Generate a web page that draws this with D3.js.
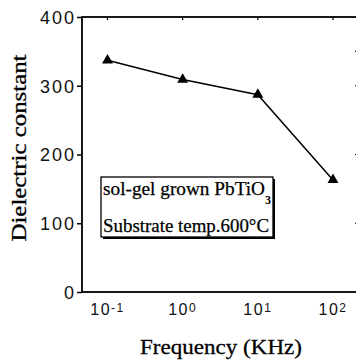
<!DOCTYPE html>
<html lang="en">
<head>
<meta charset="utf-8"/>
<title>Dielectric constant vs frequency</title>
<script src="https://d3js.org/d3.v7.min.js"></script>
<style>
  body { margin: 0; background: #fff; }
</style>
</head>
<body>
<script>
// values
var freq = [0.1, 1, 10, 100];            // KHz
var dielectric = [337, 309, 287, 163];
var yTicks = [0, 100, 200, 300, 400];
var rightTicks = [100, 200, 300, 350];
var xTicks = [0.1, 1, 10, 100];
var xTickExp = ["-1", "0", "1", "2"];
var legendLines = ["sol-gel grown PbTiO", "Substrate temp.600\u00B0C"];

var w = 356, h = 361;
var plotL = 82, plotR = 359, plotT = 17, plotB = 292;
var serif = "'Liberation Serif', 'Times New Roman', serif";
var sans = "'Liberation Sans', Arial, sans-serif";

var svg = d3.select("body").append("svg")
    .attr("width", w)
    .attr("height", h);

// log x scale, decades 10^-1 .. 10^2
var x = d3.scaleLog()
    .domain([0.1, 100])
    .range([107.5, 333]);

var y = d3.scaleLinear()
    .domain([0, 400])
    .range([plotB, plotT]);

// frame
svg.append("rect")
    .attr("x", plotL).attr("y", plotT)
    .attr("width", plotR - plotL).attr("height", plotB - plotT)
    .attr("fill", "none")
    .attr("stroke", "#000")
    .attr("stroke-width", 1.8);

// left axis
var yAxis = svg.append("g")
    .attr("transform", "translate(" + plotL + ",0)")
    .call(d3.axisLeft(y).tickValues(yTicks).tickSize(5).tickPadding(1));
yAxis.select(".domain").remove();
yAxis.selectAll("line").attr("stroke-width", 1.5);
yAxis.selectAll("text")
    .attr("font-family", sans)
    .attr("font-size", 18)
    .attr("letter-spacing", 2)
    .attr("fill", "#111")
    .attr("dy", "0.36em");

// right ticks (inside)
svg.selectAll(".rtick")
    .data(rightTicks)
    .enter().append("line")
    .attr("x1", plotR).attr("x2", plotR - 4)
    .attr("y1", function(d) { return y(d); })
    .attr("y2", function(d) { return y(d); })
    .attr("stroke", "#000")
    .attr("stroke-width", 1.2);

// top ticks (inside)
svg.selectAll(".ttick")
    .data(xTicks)
    .enter().append("line")
    .attr("x1", function(d) { return x(d); })
    .attr("x2", function(d) { return x(d); })
    .attr("y1", plotT).attr("y2", plotT + 3)
    .attr("stroke", "#000")
    .attr("stroke-width", 1.2);

// bottom tick labels 10^n
var xl = svg.selectAll(".xlab")
    .data(xTicks)
    .enter().append("text")
    .attr("x", function(d) { return x(d); })
    .attr("y", 315)
    .attr("text-anchor", "middle")
    .attr("font-family", sans)
    .attr("font-size", 16)
    .attr("letter-spacing", 1.5)
    .attr("fill", "#111");
xl.append("tspan").text("10");
xl.append("tspan")
    .attr("font-size", 12)
    .attr("dy", -3)
    .text(function(d, i) { return xTickExp[i]; });

// data line + triangles
var line = d3.line()
    .x(function(d, i) { return x(freq[i]); })
    .y(function(d) { return y(d); });

svg.append("path")
    .datum(dielectric)
    .attr("d", line)
    .attr("fill", "none")
    .attr("stroke", "#000")
    .attr("stroke-width", 1.5);

svg.selectAll(".pt")
    .data(dielectric)
    .enter().append("path")
    .attr("transform", function(d, i) { return "translate(" + x(freq[i]) + "," + y(d) + ")"; })
    .attr("d", d3.symbol(d3.symbolTriangle, 52))
    .attr("fill", "#000");

// legend box with shadow
svg.append("rect")
    .attr("x", 103).attr("y", 179)
    .attr("width", 172).attr("height", 60)
    .attr("fill", "#000");
svg.append("rect")
    .attr("x", 101).attr("y", 177)
    .attr("width", 172).attr("height", 60)
    .attr("fill", "#fff")
    .attr("stroke", "#000")
    .attr("stroke-width", 1.3);

svg.selectAll(".leg")
    .data(legendLines)
    .enter().append("text")
    .attr("x", 103)
    .attr("y", function(d, i) { return i === 0 ? 195 : 231.5; })
    .attr("font-family", serif)
    .attr("font-size", 19)
    .attr("stroke", "#000")
    .attr("stroke-width", 0.25)
    .attr("textLength", function(d, i) { return i === 0 ? 162 : 166; })
    .attr("lengthAdjust", "spacingAndGlyphs")
    .text(function(d) { return d; });

svg.append("text")
    .attr("x", 265).attr("y", 204)
    .attr("font-family", serif)
    .attr("font-size", 12)
    .attr("font-weight", "bold")
    .text("3");

// axis titles
svg.append("text")
    .attr("x", 221).attr("y", 354)
    .attr("text-anchor", "middle")
    .attr("font-family", serif)
    .attr("font-size", 21)
    .attr("stroke", "#000")
    .attr("stroke-width", 0.3)
    .attr("textLength", 162)
    .attr("lengthAdjust", "spacingAndGlyphs")
    .text("Frequency (KHz)");

svg.append("text")
    .attr("transform", "translate(26,148) rotate(-90)")
    .attr("text-anchor", "middle")
    .attr("font-family", serif)
    .attr("font-size", 20)
    .attr("stroke", "#000")
    .attr("stroke-width", 0.3)
    .attr("textLength", 187)
    .attr("lengthAdjust", "spacingAndGlyphs")
    .text("Dielectric constant");
</script>
</body>
</html>
